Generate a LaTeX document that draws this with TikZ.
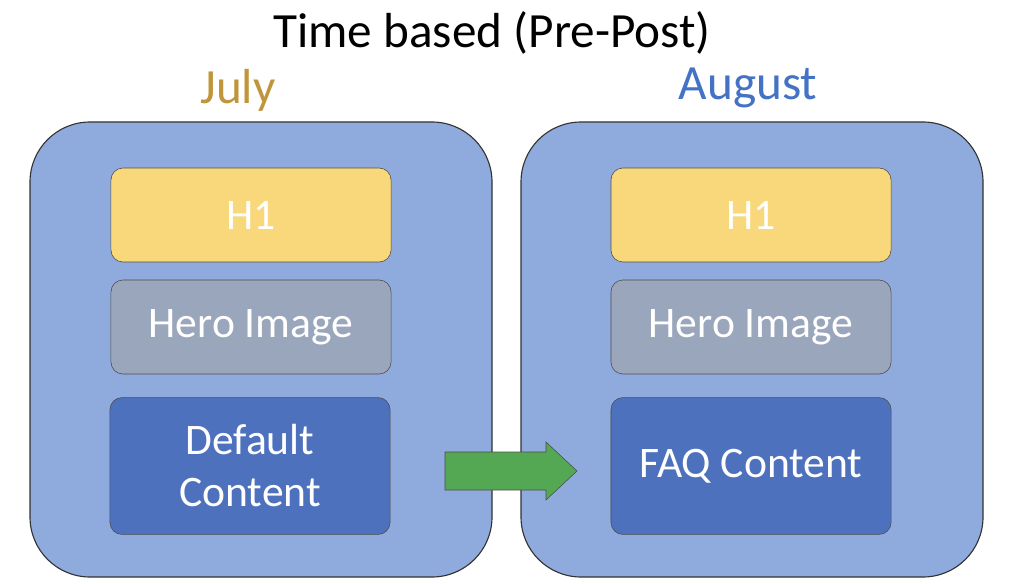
\documentclass[tikz,border=0pt]{standalone}
\usepackage{fontspec}
\setmainfont{Carlito}
\definecolor{pageblue}{RGB}{143,170,220}
\definecolor{hone}{RGB}{248,216,122}
\definecolor{hero}{RGB}{154,166,188}
\definecolor{content}{RGB}{78,113,190}
\definecolor{julygold}{RGB}{191,150,60}
\definecolor{augblue}{RGB}{68,114,196}
\definecolor{arrowgreen}{RGB}{84,168,84}
\begin{document}
\begin{tikzpicture}[x=0.025cm,y=-0.025cm,
    page/.style={draw=black!80, thick, fill=pageblue, rounded corners=1.5cm},
    block/.style={draw=black!70, fill=#1, rounded corners=0.3cm, text=white,
        font=\fontsize{31}{37}\selectfont, align=center, inner sep=0pt,
        minimum width=7cm},
    heading/.style={font=\fontsize{35}{42}\selectfont},
]
\useasboundingbox (0,0) rectangle (1024,584);

% Titolo
\node[heading] (title) at (492,33) {Time based (Pre-Post)};
\node[heading, text=julygold] (july) at (238,90) {July};
\node[heading, text=augblue] (august) at (748,88) {August};

% Pagine
\draw[page] (30,122) rectangle (492,577);
\draw[page] (521,122) rectangle (983,577);

% Luglio
\node[block=hone, minimum height=2.35cm] (h1a) at (251,215) {H1};
\node[block=hero, minimum height=2.35cm] (heroa) at (251,327) {Hero Image};
\node[block=content, minimum height=3.42cm] (conta) at (250,466) {Default\\Content};

% Agosto
\node[block=hone, minimum height=2.35cm] (h1b) at (751,215) {H1};
\node[block=hero, minimum height=2.35cm] (herob) at (751,327) {Hero Image};
\node[block=content, minimum height=3.42cm] (contb) at (751,466) {FAQ Content};

% Freccia
\draw[draw=black!70, fill=arrowgreen] (445,452) -- (546,452) -- (546,442) -- (577,471)
    -- (546,500) -- (546,490) -- (445,490) -- cycle;
\end{tikzpicture}
\end{document}
